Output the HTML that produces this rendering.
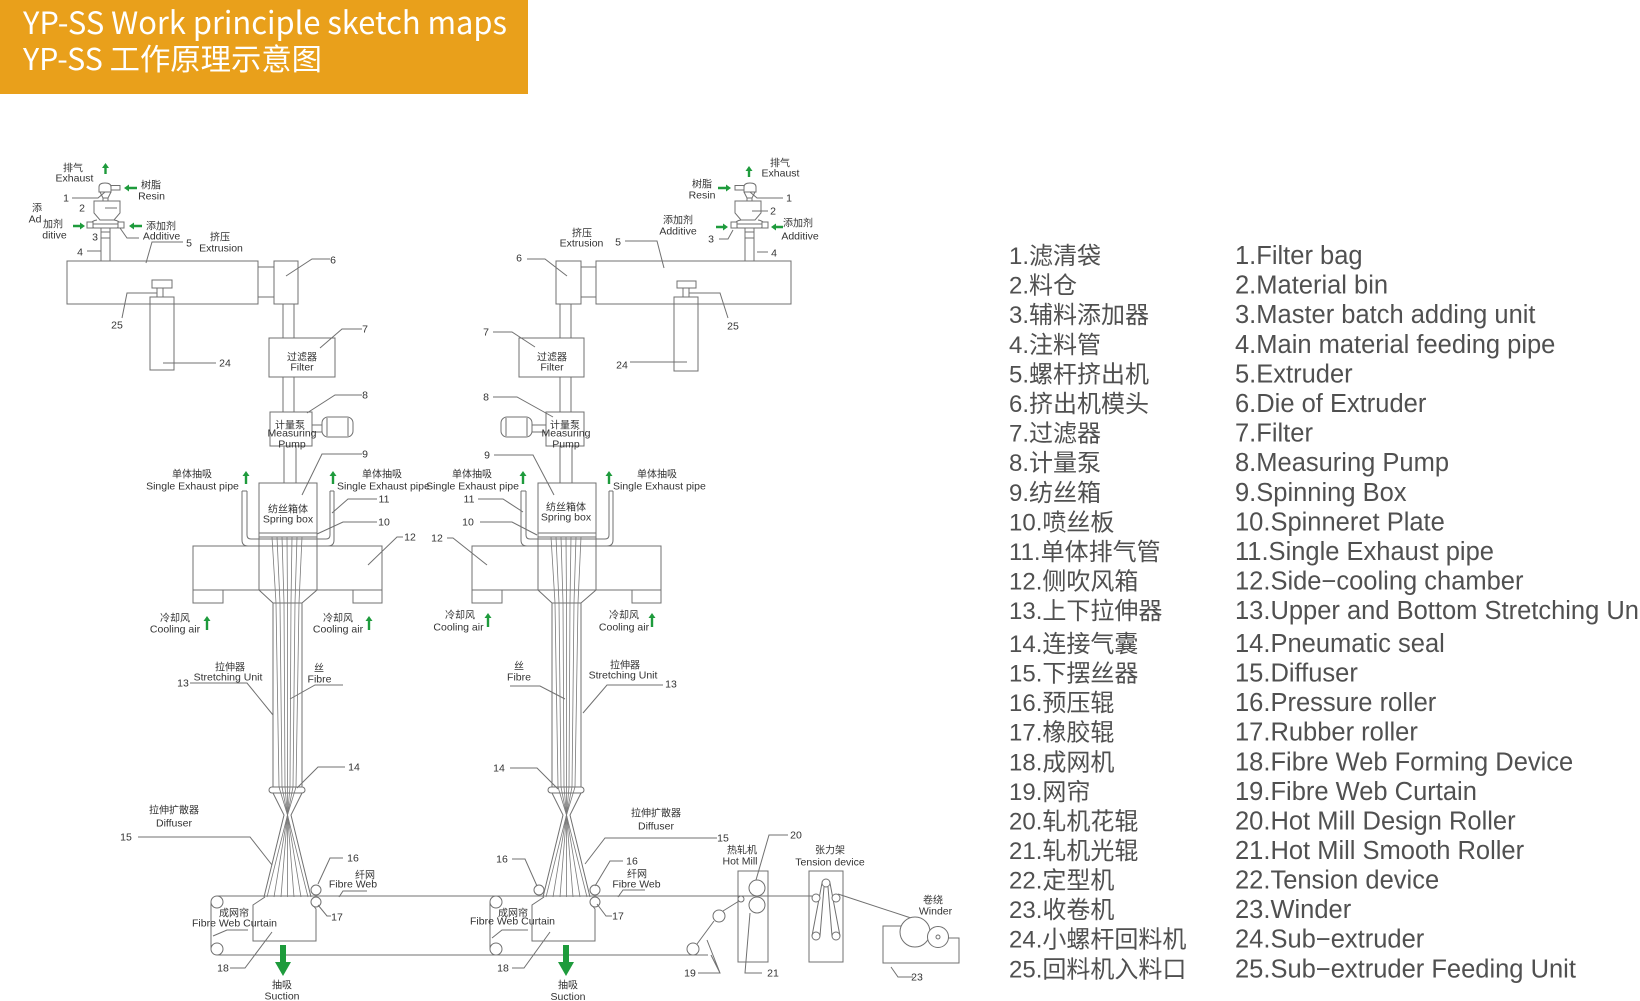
<!DOCTYPE html>
<html><head><meta charset="utf-8">
<style>
html,body{margin:0;padding:0;background:#fff;}
body{width:1640px;height:1001px;overflow:hidden;}
svg{display:block;}
.e{font-family:"Liberation Sans",sans-serif;font-size:10.5px;fill:#333;}
.z{font-family:"Liberation Sans","Noto Sans CJK SC",sans-serif;font-size:10px;fill:#333;}
.m{text-anchor:middle;}
.r{text-anchor:end;}
.lz{font-family:"Liberation Sans","Noto Sans CJK SC",sans-serif;font-size:24px;fill:#505050;}
.le{font-family:"Liberation Sans",sans-serif;font-size:25.5px;fill:#505050;}
</style></head>
<body>
<svg width="1640" height="1001" viewBox="0 0 1640 1001" xmlns="http://www.w3.org/2000/svg">
<rect x="0" y="0" width="1640" height="1001" fill="#fff"/>
<!-- Title -->
<rect x="0" y="0" width="528" height="94" fill="#E9A01B"/>
<text x="23" y="34" font-family="Noto Sans CJK SC, Liberation Sans, sans-serif" font-size="31" font-weight="400" fill="#fff" textLength="484" lengthAdjust="spacingAndGlyphs">YP-SS Work principle sketch maps</text>
<text x="23" y="70" font-family="Noto Sans CJK SC, Liberation Sans, sans-serif" font-size="30" font-weight="400" fill="#fff" textLength="299" lengthAdjust="spacingAndGlyphs">YP-SS 工作原理示意图</text>

<defs>
<g id="hop">
 <path d="M99,192 V187 Q99,183 105,183 Q111,183 111,187 V192 Z"/>
 <rect x="111" y="185.5" width="9" height="4.5"/>
 <path d="M100,192 L103,198 H108 L111,192"/>
 <path d="M103,198 V201 M108,198 V201"/>
 <path d="M94,201 H120 V213 L114,220 H100 L94,213 Z"/>
 <path d="M97,220 C90,221 89,226 94,228 H117 C122,226 121,221 114,220"/>
 <line x1="91" y1="224" x2="120" y2="224"/>
 <rect x="87" y="222" width="6" height="6" fill="#fff"/>
 <rect x="118" y="222" width="6" height="6" fill="#fff"/>
 <rect x="101" y="228" width="9" height="10"/>
 <line x1="101" y1="232" x2="110" y2="232"/>
 <path d="M101,238 V261 M110,238 V261"/>
</g>
<g id="spin">
 <path d="M259,483 H317 V590 L302,603 H273 L259,590 Z"/>
 <path d="M259,533 H317 M259,537 H317"/>
 <path d="M242,491 V540 Q242,546 248,546 H328 Q334,546 334,540 V491"/>
 <path d="M247,491 V535 Q247,539 251,539 H326 Q330,539 330,535 V491"/>
 <path d="M242,491 H247 M330,491 H334"/>
 <rect x="193" y="546" width="189" height="44"/>
 <rect x="193" y="590" width="30" height="13"/>
 <rect x="353" y="590" width="29" height="13"/>
 <path d="M273,603 V787 M302,603 V787"/>
 <rect x="269" y="787" width="36" height="6" rx="3"/>
 <path d="M273,793 L284,815 L264,897 M302,793 L291,815 L311,897"/>
 <g stroke="#7a7a7a" stroke-width="0.8">
  <polyline points="272,537 276,603 279,787 287.5,815 308,897"/>
  <polyline points="277,537 280,603 282,787 287.5,815 301,897"/>
  <polyline points="282,537 284,603 285,787 287.5,815 294,897"/>
  <polyline points="287,537 287.5,603 287.5,787 287.5,815 287.5,897"/>
  <polyline points="292,537 291,603 290,787 287.5,815 281,897"/>
  <polyline points="297,537 295,603 293,787 287.5,815 274,897"/>
  <polyline points="302,537 299,603 296,787 287.5,815 267,897"/>
 </g>
 <path d="M265,897 L253,905 V941 H316 V909 L312,904"/>
 <circle cx="316" cy="890" r="5" fill="#fff"/>
 <circle cx="316" cy="902" r="5" fill="#fff"/>
 <circle cx="217" cy="902" r="6" fill="#fff"/>
 <circle cx="217" cy="949" r="6" fill="#fff"/>
 <path d="M211,902 V949"/>
</g>
</defs>

<g stroke="#707070" stroke-width="1" fill="none">
 <!-- belt lines -->
 <path d="M217,896 H812"/>
 <path d="M217,955 H708"/>

 <use href="#hop"/>
 <use href="#hop" transform="matrix(-1,0,0,1,855,0)"/>
 <use href="#spin"/>
 <use href="#spin" transform="translate(279,0)"/>
 <circle cx="539" cy="890" r="5" fill="#fff"/>

 <!-- LEFT top -->
 <rect x="67" y="261" width="191" height="43"/>
 <path d="M258,267 H274 M258,297 H274"/>
 <rect x="274" y="261" width="24" height="43"/>
 <path d="M283,304 V338 M294,304 V338"/>
 <rect x="269" y="338" width="66" height="39"/>
 <path d="M283,377 V412 M294,377 V412"/>
 <rect x="270" y="412" width="42" height="34"/>
 <rect x="312" y="425" width="10" height="7"/>
 <rect x="322" y="417" width="31" height="20" rx="6"/>
 <path d="M327,418 V436 M348,418 V436"/>
 <path d="M284,446 V483 M296,446 V483"/>
 <rect x="152" y="280" width="20" height="8"/>
 <path d="M157,288 V297 M163,288 V297"/>
 <rect x="150" y="297" width="24" height="73"/>

 <!-- RIGHT top -->
 <rect x="596" y="261" width="195" height="43"/>
 <path d="M581,267 H596 M581,297 H596"/>
 <rect x="556" y="261" width="25" height="43"/>
 <path d="M560,304 V338 M571,304 V338"/>
 <rect x="519" y="338" width="65" height="39"/>
 <path d="M560,377 V412 M571,377 V412"/>
 <rect x="546" y="412" width="38" height="34"/>
 <rect x="532" y="425" width="14" height="7"/>
 <rect x="501" y="417" width="31" height="20" rx="6"/>
 <path d="M506,418 V436 M527,418 V436"/>
 <path d="M560,446 V483 M572,446 V483"/>
 <rect x="677" y="281" width="19" height="7"/>
 <path d="M683,288 V297 M689,288 V297"/>
 <rect x="674" y="297" width="24" height="74"/>

 <!-- Hot mill -->
 <rect x="738" y="871" width="30" height="91"/>
 <circle cx="757" cy="888" r="8" fill="#fff"/>
 <circle cx="757" cy="905" r="8" fill="#fff"/>
 <circle cx="741" cy="899" r="3" fill="#fff"/>
 <path d="M739,901 L723,911 M714,921 L697,944"/>
 <circle cx="719" cy="916" r="6" fill="#fff"/>
 <circle cx="693" cy="949" r="6" fill="#fff"/>
 <!-- Tension device -->
 <rect x="809" y="871" width="34" height="91"/>
 <path d="M822,883 L812,936 M830,883 L840,936 M824,887 L820,936 M828,887 L832,936"/>
 <circle cx="826" cy="883" r="4" fill="#fff"/>
 <circle cx="816" cy="898" r="4" fill="#fff"/>
 <circle cx="836" cy="898" r="4" fill="#fff"/>
 <circle cx="816" cy="936" r="4" fill="#fff"/>
 <circle cx="836" cy="936" r="4" fill="#fff"/>
 <path d="M838,894 L911,918"/>
 <!-- Winder -->
 <path d="M901,926 H883 V963 H959 V938 H948"/>
 <circle cx="915" cy="932" r="15" fill="#fff"/>
 <circle cx="938" cy="937" r="10.5" fill="#fff"/>
 <circle cx="938" cy="937" r="2"/>

 <!-- Leaders LEFT -->
 <path d="M72,198 H98 L105,192"/>
 <path d="M105,208 H117"/>
 <path d="M120,228 L127,238 H139"/>
 <path d="M87,251 H101"/>
 <path d="M183,242 H152 L146,263"/>
 <path d="M330,259 H312 L286,276"/>
 <path d="M362,329 H342 L320,348"/>
 <path d="M362,395 H335 L307,413"/>
 <path d="M163,363 H216"/>
 <path d="M122,318 L127,293 H157"/>
 <path d="M362,454 H322 L302,495"/>
 <path d="M377,499 H348 L332,513"/>
 <path d="M377,522 H343 L317,534"/>
 <path d="M403,537 H397 L368,565"/>
 <path d="M190,683 H247 L273,715"/>
 <path d="M343,685 H315 L290,699"/>
 <path d="M345,767 H318 L297,788"/>
 <path d="M138,837 H250 L272,865"/>
 <path d="M343,858 H330 L318,884"/>
 <path d="M367,891 H343 L339,897"/>
 <path d="M318,905 L327,916 H331"/>
 <path d="M248,930 H227 L213,936"/>
 <path d="M230,968 H245 L272,932"/>

 <!-- Leaders RIGHT -->
 <path d="M783,198 H757 L750,192"/>
 <path d="M752,211 H768"/>
 <path d="M719,239 H728 L733,230"/>
 <path d="M757,252 H768"/>
 <path d="M625,241 H657 L664,268"/>
 <path d="M527,259 H545 L567,276"/>
 <path d="M493,332 H512 L535,347"/>
 <path d="M493,397 H517 L553,417"/>
 <path d="M630,362 H687"/>
 <path d="M689,293 H720 L728,318"/>
 <path d="M494,455 H533 L554,495"/>
 <path d="M478,499 H503 L523,512"/>
 <path d="M480,522 H512 L537,535"/>
 <path d="M447,538 H453 L487,565"/>
 <path d="M663,685 H607 L583,713"/>
 <path d="M510,686 H540 L565,699"/>
 <path d="M510,768 H537 L558,789"/>
 <path d="M717,838 H605 L585,864"/>
 <path d="M512,859 H525 L537,886"/>
 <path d="M623,861 H610 L595,886"/>
 <path d="M645,890 H623 L618,897"/>
 <path d="M612,916 H606 L597,904"/>
 <path d="M528,930 H502 L492,938"/>
 <path d="M512,968 H524 L550,932"/>
 <path d="M698,973 H720 L707,940 M720,973 L711,955"/>
 <path d="M788,835 H769 L756,880"/>
 <path d="M762,973 H745 L750,913"/>
 <path d="M913,977 H898 L891,967"/>
</g>

<!-- green arrows -->
<g fill="#1E9B3C">
 <path d="M105.5,163 L109,168 L106.7,168 L106.7,174 L104.3,174 L104.3,168 L102,168 Z"/>
 <path d="M749,166 L752.5,171 L750.2,171 L750.2,177 L747.8,177 L747.8,171 L745.5,171 Z"/>
 <path d="M246,471 L249.5,476 L247.2,476 L247.2,484 L244.8,484 L244.8,476 L242.5,476 Z"/>
 <path d="M333,471 L336.5,476 L334.2,476 L334.2,484 L331.8,484 L331.8,476 L329.5,476 Z"/>
 <path d="M523,471 L526.5,476 L524.2,476 L524.2,484 L521.8,484 L521.8,476 L519.5,476 Z"/>
 <path d="M609,471 L612.5,476 L610.2,476 L610.2,484 L607.8,484 L607.8,476 L605.5,476 Z"/>
 <path d="M207,616 L210.5,621 L208.2,621 L208.2,630 L205.8,630 L205.8,621 L203.5,621 Z"/>
 <path d="M369,616 L372.5,621 L370.2,621 L370.2,630 L367.8,630 L367.8,621 L365.5,621 Z"/>
 <path d="M488,613 L491.5,618 L489.2,618 L489.2,627 L486.8,627 L486.8,618 L484.5,618 Z"/>
 <path d="M652,613 L655.5,618 L653.2,618 L653.2,627 L650.8,627 L650.8,618 L648.5,618 Z"/>
 <!-- horizontal -->
 <path d="M124,188 L129,184.5 L129,186.8 L137,186.8 L137,189.2 L129,189.2 L129,191.5 Z"/>
 <path d="M85,226 L80,222.5 L80,224.8 L73,224.8 L73,227.2 L80,227.2 L80,229.5 Z"/>
 <path d="M129,226 L134,222.5 L134,224.8 L142,224.8 L142,227.2 L134,227.2 L134,229.5 Z"/>
 <path d="M731,188 L726,184.5 L726,186.8 L718,186.8 L718,189.2 L726,189.2 L726,191.5 Z"/>
 <path d="M728,227 L723,223.5 L723,225.8 L716,225.8 L716,228.2 L723,228.2 L723,230.5 Z"/>
 <path d="M771,227 L776,223.5 L776,225.8 L783,225.8 L783,228.2 L776,228.2 L776,230.5 Z"/>
 <!-- suction -->
 <path d="M280,945 H286 V962 H291 L283,976 L275,962 H280 Z"/>
 <path d="M563,945 H569 V962 H574 L566,976 L558,962 H563 Z"/>
</g>

<!-- LEFT labels -->
<g>
<text class="z m" x="73" y="171.6">排气</text>
<text class="e m" x="74.5" y="181.7">Exhaust</text>
<text class="z m" x="151" y="188.6">树脂</text>
<text class="e m" x="151.5" y="199.7">Resin</text>
<text class="e m" x="66" y="201.7">1</text>
<text class="e m" x="82" y="211.7">2</text>
<text class="z m" x="37" y="211.6">添</text>
<text class="e m" x="35" y="222.7">Ad</text>
<text class="z m" x="53" y="227.6">加剂</text>
<text class="e m" x="54.5" y="238.7">ditive</text>
<text class="z m" x="161" y="229.6">添加剂</text>
<text class="e m" x="161.5" y="239.7">Additive</text>
<text class="e m" x="95" y="240.7">3</text>
<text class="e m" x="80" y="255.7">4</text>
<text class="e m" x="189" y="246.7">5</text>
<text class="z m" x="220" y="240.6">挤压</text>
<text class="e m" x="221" y="251.7">Extrusion</text>
<text class="e m" x="333" y="263.7">6</text>
<text class="e m" x="365" y="332.7">7</text>
<text class="e m" x="365" y="398.7">8</text>
<text class="e m" x="225" y="366.7">24</text>
<text class="e m" x="117" y="328.7">25</text>
<text class="z m" x="302" y="360.6">过滤器</text>
<text class="e m" x="302" y="370.7">Filter</text>
<text class="z m" x="290" y="428.6">计量泵</text>
<text class="e m" x="292" y="436.7">Measuring</text>
<text class="e m" x="292" y="447.7">Pump</text>
<text class="e m" x="365" y="457.7">9</text>
<text class="e m" x="384" y="502.7">11</text>
<text class="e m" x="384" y="525.7">10</text>
<text class="e m" x="410" y="540.7">12</text>
<text class="z m" x="192" y="477.6">单体抽吸</text>
<text class="e m" x="192.5" y="489.7">Single Exhaust pipe</text>
<text class="z m" x="382" y="477.6">单体抽吸</text>
<text class="e" x="337" y="489.7">Single Exhaust pipe</text>
<text class="z m" x="288" y="512.6">纺丝箱体</text>
<text class="e m" x="288" y="522.7">Spring box</text>
<text class="z m" x="175" y="621.6">冷却风</text>
<text class="e m" x="175" y="632.7">Cooling air</text>
<text class="z m" x="338" y="621.6">冷却风</text>
<text class="e m" x="338" y="632.7">Cooling air</text>
<text class="e m" x="183" y="686.7">13</text>
<text class="z m" x="230" y="670.6">拉伸器</text>
<text class="e m" x="228" y="680.7">Stretching Unit</text>
<text class="z m" x="319" y="671.6">丝</text>
<text class="e m" x="319.5" y="682.7">Fibre</text>
<text class="e m" x="354" y="770.7">14</text>
<text class="z m" x="174" y="813.6">拉伸扩散器</text>
<text class="e m" x="174" y="826.7">Diffuser</text>
<text class="e m" x="126" y="840.7">15</text>
<text class="e m" x="353" y="861.7">16</text>
<text class="z m" x="365" y="878.6">纤网</text>
<text class="e m" x="353" y="887.7">Fibre Web</text>
<text class="e m" x="337" y="920.7">17</text>
<text class="z m" x="234" y="916.6">成网帘</text>
<text class="e m" x="234.5" y="926.7">Fibre Web Curtain</text>
<text class="e m" x="223" y="971.7">18</text>
<text class="z m" x="282" y="988.6">抽吸</text>
<text class="e m" x="282" y="999.7">Suction</text>
</g>

<!-- RIGHT labels -->
<g>
<text class="z m" x="780" y="166.6">排气</text>
<text class="e m" x="780.5" y="176.7">Exhaust</text>
<text class="z m" x="702" y="187.6">树脂</text>
<text class="e m" x="702" y="198.7">Resin</text>
<text class="e m" x="789" y="201.7">1</text>
<text class="e m" x="773" y="214.7">2</text>
<text class="z m" x="678" y="223.6">添加剂</text>
<text class="e m" x="678" y="234.7">Additive</text>
<text class="z m" x="798" y="226.6">添加剂</text>
<text class="e m" x="800" y="239.7">Additive</text>
<text class="e m" x="711" y="242.7">3</text>
<text class="e m" x="774" y="256.7">4</text>
<text class="e m" x="618" y="245.7">5</text>
<text class="z m" x="582" y="236.6">挤压</text>
<text class="e m" x="581.5" y="246.7">Extrusion</text>
<text class="e m" x="519" y="261.7">6</text>
<text class="e m" x="486" y="335.7">7</text>
<text class="e m" x="486" y="400.7">8</text>
<text class="e m" x="622" y="368.7">24</text>
<text class="e m" x="733" y="329.7">25</text>
<text class="z m" x="552" y="360.6">过滤器</text>
<text class="e m" x="552" y="370.7">Filter</text>
<text class="z m" x="565" y="428.6">计量泵</text>
<text class="e m" x="566" y="436.7">Measuring</text>
<text class="e m" x="566" y="447.7">Pump</text>
<text class="e m" x="487" y="458.7">9</text>
<text class="e m" x="469" y="502.7">11</text>
<text class="e m" x="468" y="525.7">10</text>
<text class="e m" x="437" y="541.7">12</text>
<text class="z m" x="472" y="477.6">单体抽吸</text>
<text class="e r" x="519" y="489.7">Single Exhaust pipe</text>
<text class="z m" x="657" y="477.6">单体抽吸</text>
<text class="e" x="613" y="489.7">Single Exhaust pipe</text>
<text class="z m" x="566" y="510.6">纺丝箱体</text>
<text class="e m" x="566" y="520.7">Spring box</text>
<text class="z m" x="460" y="618.6">冷却风</text>
<text class="e m" x="458.5" y="630.7">Cooling air</text>
<text class="z m" x="624" y="618.6">冷却风</text>
<text class="e m" x="624" y="630.7">Cooling air</text>
<text class="z m" x="519" y="669.6">丝</text>
<text class="e m" x="519" y="680.7">Fibre</text>
<text class="z m" x="625" y="668.6">拉伸器</text>
<text class="e m" x="623" y="678.7">Stretching Unit</text>
<text class="e m" x="671" y="687.7">13</text>
<text class="e m" x="499" y="771.7">14</text>
<text class="z m" x="656" y="816.6">拉伸扩散器</text>
<text class="e m" x="656" y="829.7">Diffuser</text>
<text class="e m" x="723" y="841.7">15</text>
<text class="e m" x="502" y="862.7">16</text>
<text class="e m" x="632" y="864.7">16</text>
<text class="z m" x="637" y="877.6">纤网</text>
<text class="e m" x="636.5" y="887.7">Fibre Web</text>
<text class="e m" x="618" y="919.7">17</text>
<text class="z m" x="513" y="916.6">成网帘</text>
<text class="e m" x="512.5" y="924.7">Fibre Web Curtain</text>
<text class="e m" x="503" y="971.7">18</text>
<text class="z m" x="568" y="988.6">抽吸</text>
<text class="e m" x="568" y="1000">Suction</text>
<text class="e m" x="690" y="976.7">19</text>
<text class="z m" x="742" y="853.6">热轧机</text>
<text class="e m" x="740" y="864.7">Hot Mill</text>
<text class="e m" x="796" y="838.7">20</text>
<text class="e m" x="773" y="976.7">21</text>
<text class="z m" x="830" y="853.6">张力架</text>
<text class="e m" x="830" y="865.7">Tension device</text>
<text class="z m" x="933" y="903.6">卷绕</text>
<text class="e m" x="935.5" y="914.7">Winder</text>
<text class="e m" x="917" y="980.7">23</text>
</g>

<!-- Legend -->
<g>
<text class="lz" x="1009" y="264">1.滤清袋</text>
<text class="lz" x="1009" y="293.6">2.料仓</text>
<text class="lz" x="1009" y="323.2">3.辅料添加器</text>
<text class="lz" x="1009" y="352.8">4.注料管</text>
<text class="lz" x="1009" y="382.4">5.螺杆挤出机</text>
<text class="lz" x="1009" y="412">6.挤出机模头</text>
<text class="lz" x="1009" y="441.6">7.过滤器</text>
<text class="lz" x="1009" y="471.2">8.计量泵</text>
<text class="lz" x="1009" y="500.8">9.纺丝箱</text>
<text class="lz" x="1009" y="530.4">10.喷丝板</text>
<text class="lz" x="1009" y="560">11.单体排气管</text>
<text class="lz" x="1009" y="589.6">12.侧吹风箱</text>
<text class="lz" x="1009" y="619.2">13.上下拉伸器</text>
<text class="lz" x="1009" y="652">14.连接气囊</text>
<text class="lz" x="1009" y="681.6">15.下摆丝器</text>
<text class="lz" x="1009" y="711.1">16.预压辊</text>
<text class="lz" x="1009" y="740.7">17.橡胶辊</text>
<text class="lz" x="1009" y="770.3">18.成网机</text>
<text class="lz" x="1009" y="799.8">19.网帘</text>
<text class="lz" x="1009" y="829.4">20.轧机花辊</text>
<text class="lz" x="1009" y="859">21.轧机光辊</text>
<text class="lz" x="1009" y="888.6">22.定型机</text>
<text class="lz" x="1009" y="918.1">23.收卷机</text>
<text class="lz" x="1009" y="947.7">24.小螺杆回料机</text>
<text class="lz" x="1009" y="977.3">25.回料机入料口</text>

<text class="le" x="1235" y="264">1.Filter bag</text>
<text class="le" x="1235" y="293.6">2.Material bin</text>
<text class="le" x="1235" y="323.2">3.Master batch adding unit</text>
<text class="le" x="1235" y="352.8">4.Main material feeding pipe</text>
<text class="le" x="1235" y="382.4">5.Extruder</text>
<text class="le" x="1235" y="412">6.Die of Extruder</text>
<text class="le" x="1235" y="441.6">7.Filter</text>
<text class="le" x="1235" y="471.2">8.Measuring Pump</text>
<text class="le" x="1235" y="500.8">9.Spinning Box</text>
<text class="le" x="1235" y="530.4">10.Spinneret Plate</text>
<text class="le" x="1235" y="560">11.Single Exhaust pipe</text>
<text class="le" x="1235" y="589.6">12.Side−cooling chamber</text>
<text class="le" x="1235" y="619.2">13.Upper and Bottom Stretching Unit</text>
<text class="le" x="1235" y="652">14.Pneumatic seal</text>
<text class="le" x="1235" y="681.6">15.Diffuser</text>
<text class="le" x="1235" y="711.1">16.Pressure roller</text>
<text class="le" x="1235" y="740.7">17.Rubber roller</text>
<text class="le" x="1235" y="770.3">18.Fibre Web Forming Device</text>
<text class="le" x="1235" y="799.8">19.Fibre Web Curtain</text>
<text class="le" x="1235" y="829.4">20.Hot Mill Design Roller</text>
<text class="le" x="1235" y="859">21.Hot Mill Smooth Roller</text>
<text class="le" x="1235" y="888.6">22.Tension device</text>
<text class="le" x="1235" y="918.1">23.Winder</text>
<text class="le" x="1235" y="947.7">24.Sub−extruder</text>
<text class="le" x="1235" y="977.3">25.Sub−extruder Feeding Unit</text>
</g>
</svg>
</body></html>
